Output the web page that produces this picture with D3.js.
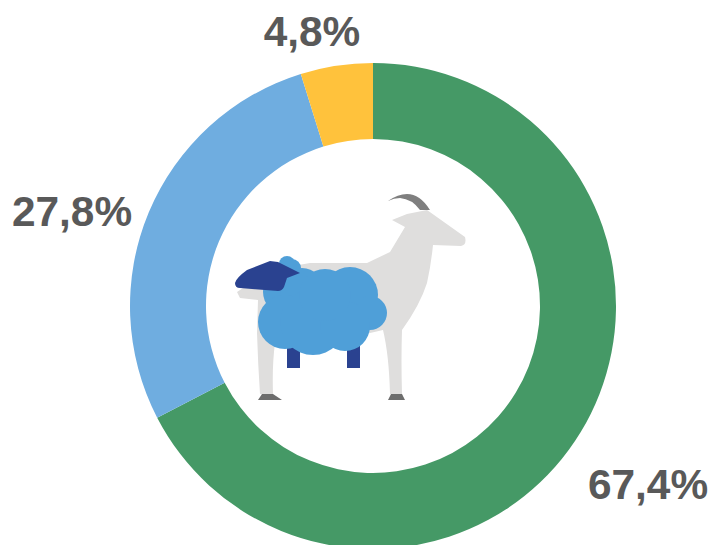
<!DOCTYPE html>
<html><head><meta charset="utf-8">
<script src="https://cdn.jsdelivr.net/npm/d3@7/dist/d3.min.js"></script>
<style>html,body{margin:0;padding:0;background:#fff}svg{display:block}</style>
</head><body><svg id="c" width="715" height="545"><defs><filter id="soft"><feGaussianBlur stdDeviation="0.6"/></filter></defs></svg>
<script>
const categories=["Goats","Sheep","Other"];
const values=[67.4,27.8,4.8];
const labels=["67,4%","27,8%","4,8%"];
const colors=["#459966","#6FADE0","#FFC23C"];
const svg=d3.select("#c");
const cx=373,cy=306,R=243,r=167;
const g=svg.append("g").attr("transform",`translate(${cx},${cy})`);
const pie=d3.pie().sort(null)(values);
g.selectAll("path.s").data(pie).join("path").attr("class","s")
 .attr("d",d3.arc().innerRadius(r).outerRadius(R)).attr("fill",(d,i)=>colors[i]);
const lx=[648,72,312],ly=[484,211,31];
svg.selectAll("text.l").data(labels).join("text").attr("class","l")
 .attr("x",(d,i)=>lx[i]).attr("y",(d,i)=>ly[i]).attr("text-anchor","middle").attr("dominant-baseline","central")
 .attr("font-family","Liberation Sans").attr("font-weight","bold").attr("font-size",42.4).attr("fill","#595959").text(d=>d);
const ic=svg.append("g").attr("filter","url(#soft)");
// goat
ic.append("path").attr("fill","#DFDEDD").attr("d","M392 220L407 214L427 210L465 237Q467 245 461 246L433 245Q431 265 427 283Q420 305 402 330Q401 360 402 394L390 394Q389 355 383 330L340 340L275 343Q272 365 273 394L260 394Q258 365 257 333L258 300L240 298L237 292L270 270L310 263L367 263L390 252L405 227Z");
// horn
ic.append("path").attr("fill","#7F7F7F").attr("d","M388 201Q398 194 407 194Q420 194 430 210L420 210Q412 199 400 198Q394 198 388 201Z");
// hooves
ic.append("path").attr("fill","#6D6D6D").attr("d","M258 400L262 394L273 394L282 400Z M388 400L391 394L402 394L405 400Z");
// sheep legs
ic.append("rect").attr("x",287).attr("y",340).attr("width",13).attr("height",28).attr("fill","#2A4390");
ic.append("rect").attr("x",347).attr("y",340).attr("width",13).attr("height",28).attr("fill","#2A4390");
ic.append("circle").attr("cx",281).attr("cy",343).attr("r",3).attr("fill","#F6B5B0");
// sheep fleece: union of circles
const fleece=[[350,295,28],[370,313,17],[287,264,8],[292,268,9],[285,292,22],[302,290,22],[285,322,27],[313,322,33],[345,326,25],[325,295,26]];
ic.append("g").attr("fill","#509FD8").selectAll("circle").data(fleece).join("circle")
 .attr("cx",d=>d[0]).attr("cy",d=>d[1]).attr("r",d=>d[2]);
// sheep head
ic.append("path").attr("fill","#2A4390").attr("d","M235 283Q236 278 247 270L270 261L278 262L300 273L287 278L284 287Q282 291 278 291L240 288Q235 288 235 283Z");
</script></body></html>
